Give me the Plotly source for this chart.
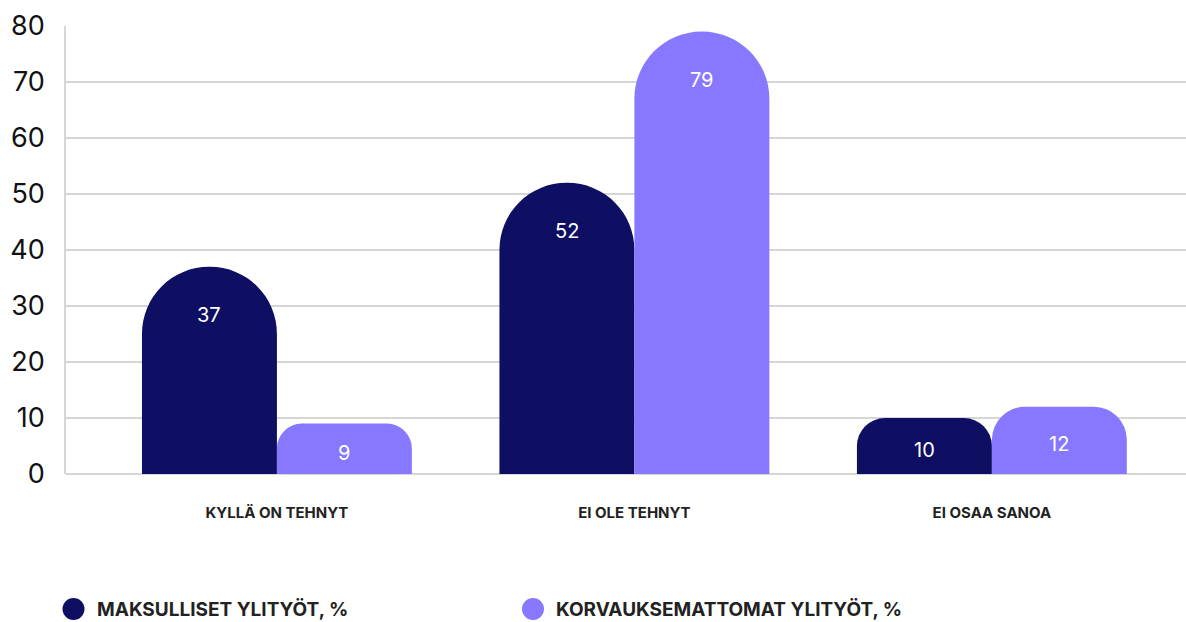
import plotly.graph_objects as go

categories = ["KYLLÄ ON TEHNYT", "EI OLE TEHNYT", "EI OSAA SANOA"]
series_names = ["MAKSULLISET YLITYÖT, %", "KORVAUKSEMATTOMAT YLITYÖT, %"]
maksulliset = [37, 52, 10]
korvauksemattomat = [9, 79, 12]
y_ticks = [0, 10, 20, 30, 40, 50, 60, 70, 80]

colors = ["#0e0e63", "#8878ff"]
series_values = [maksulliset, korvauksemattomat]

W, H = 1186, 622
ML, MR, MT, MB = 66, 0, 26, 148
plot_w = W - ML - MR
plot_h = H - MT - MB
y_max = 80
x_range = [-0.59, 2.543]
bargap = 0.245
px_per_cat = plot_w / (x_range[1] - x_range[0])
bar_w_px = px_per_cat * (1 - bargap) / 2
px_per_unit = plot_h / y_max

fig = go.Figure()
annotations = []
for si, (name, vals) in enumerate(zip(series_names, series_values)):
    for ci, (cat, v) in enumerate(zip(categories, vals)):
        h_px = v * px_per_unit
        r = min(bar_w_px / 2, h_px / 2)
        fig.add_trace(go.Bar(
            x=[cat], y=[v], name=name, offsetgroup=str(si),
            marker=dict(color=colors[si], cornerradius=r, line=dict(width=0)),
            showlegend=False, hoverinfo="skip",
        ))
        annotations.append(dict(
            x=cat, y=v, xref="x", yref="y", text=str(v), showarrow=False,
            xshift=(si - 0.5) * bar_w_px, yshift=-min(48, h_px / 2 + 4),
            font=dict(family="Inter", size=20, color="#ffffff"),
            xanchor="center", yanchor="middle",
        ))

# manual legend
legend_y = (plot_h - (609 - MT)) / plot_h
legend_items_x = [73.5, 533]
shapes = []
for si, name in enumerate(series_names):
    cx = (legend_items_x[si] - ML) / plot_w
    shapes.append(dict(type="circle", xref="paper", yref="paper",
                       xsizemode="pixel", ysizemode="pixel",
                       xanchor=cx, yanchor=legend_y,
                       x0=-11, x1=11, y0=-11, y1=11,
                       fillcolor=colors[si], line=dict(width=0)))
    annotations.append(dict(
        x=(legend_items_x[si] + 21 - ML) / plot_w, y=legend_y,
        xref="paper", yref="paper", text="<b>" + name + "</b>",
        showarrow=False, xanchor="left", yanchor="middle",
        font=dict(family="Inter", size=19, color="#222222"),
    ))

grid_c = "#d6d6d6"
fig.update_layout(
    width=W, height=H,
    margin=dict(l=ML, r=MR, t=MT, b=MB, pad=0),
    paper_bgcolor="white", plot_bgcolor="white",
    barmode="group", bargap=bargap, bargroupgap=0,
    showlegend=False,
    annotations=annotations, shapes=shapes,
    xaxis=dict(
        type="category", categoryorder="array", categoryarray=categories,
        range=x_range, showgrid=False, zeroline=False,
        showline=False, ticks="",
        tickfont=dict(family="Inter", size=15, color="#222222", weight="bold"),
        ticklabelstandoff=28,
    ),
    yaxis=dict(
        range=[0, y_max], tickvals=y_ticks, ticktext=[str(t) for t in y_ticks],
        showgrid=True, gridcolor=grid_c, gridwidth=1.5,
        zeroline=True, zerolinecolor=grid_c, zerolinewidth=1.5,
        showline=True, linecolor=grid_c, linewidth=1.5,
        ticks="", tickfont=dict(family="Inter", size=27, color="#111111"),
        ticklabelstandoff=14,
    ),
)

fig.write_html("out.html", config={"displayModeBar": False},
               post_script="document.body.style.margin='0';")
